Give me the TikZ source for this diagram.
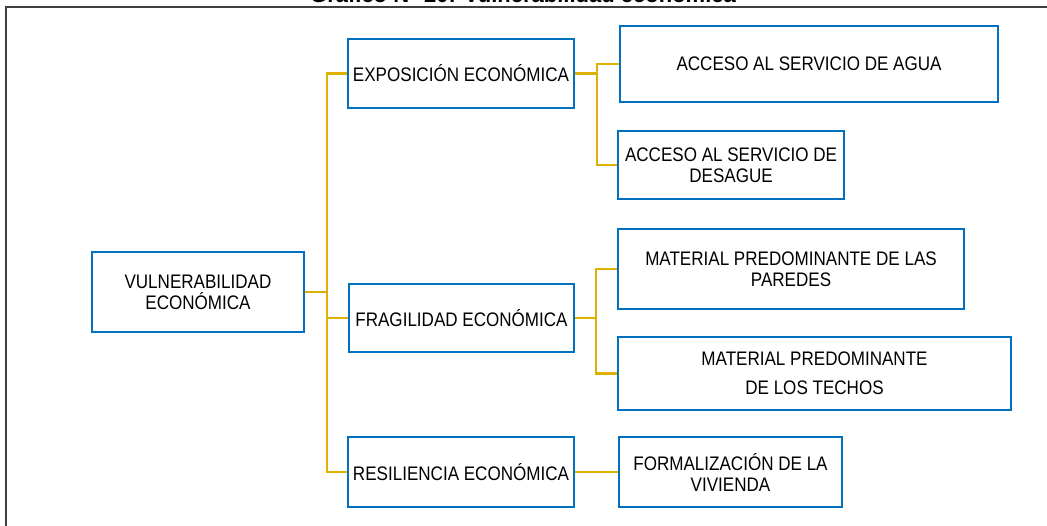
\documentclass[tikz,border=0pt]{standalone}
\usepackage{fontspec}
\setmainfont{Liberation Sans}[FakeStretch=0.87]
\newfontfamily\fuentetit{Liberation Sans}
\usepackage{xcolor}
\usepackage{tikz}
\usetikzlibrary{positioning,calc}
\definecolor{cazul}{HTML}{0070C0}
\definecolor{cdorado}{HTML}{E0B000}
\definecolor{cmarco}{HTML}{3F3F3F}
\tikzset{
  caja/.style={rectangle, draw=cazul, line width=1pt, fill=white,
    align=center, inner sep=0pt, font=\fontsize{9.8}{10.5}\selectfont},
  linea/.style={draw=cdorado, line width=1.2pt},
  marco/.style={draw=cmarco, line width=1pt},
  titulo/.style={font=\fuentetit\bfseries\fontsize{11}{13}\selectfont, inner sep=0pt},
}

\begin{document}
\begin{tikzpicture}[x=0.5pt,y=-0.5pt]
  \useasboundingbox (0,0) rectangle (1047,525);
  \clip (0,0) rectangle (1047,525);
  \node[titulo, anchor=base] (tit) at (523,2.5) {Gráfico N° 20: Vulnerabilidad económica};
  \draw[marco] (6,7) rectangle (1080,560);
  % nivel 1
  \node[caja, minimum width=106pt, minimum height=40pt] (vul) at (198,292) {VULNERABILIDAD\\ECONÓMICA};
  % nivel 2
  \node[caja, minimum width=113pt, minimum height=34.5pt] (expo) at (461,73.5) {EXPOSICIÓN ECONÓMICA};
  \node[caja, minimum width=112.5pt, minimum height=34pt] (frag) at (461.5,318) {FRAGILIDAD ECONÓMICA};
  \node[caja, minimum width=113pt, minimum height=35pt] (resi) at (461,472) {RESILIENCIA ECONÓMICA};
  % nivel 3
  \node[caja, minimum width=189pt, minimum height=38pt] (agua) at (809,64) {ACCESO AL SERVICIO DE AGUA};
  \node[caja, minimum width=113pt, minimum height=34pt] (desa) at (731,165) {ACCESO AL SERVICIO DE\\DESAGUE};
  \node[caja, minimum width=173pt, minimum height=40pt] (pare) at (791,269) {MATERIAL PREDOMINANTE DE LAS\\PAREDES};
  \node[caja, minimum width=196.5pt, minimum height=36.5pt] (tech) at (814.5,373.5) {MATERIAL PREDOMINANTE\\[4pt]DE LOS TECHOS};
  \node[caja, minimum width=111.5pt, minimum height=35pt] (form) at (730.5,472) {FORMALIZACIÓN DE LA\\VIVIENDA};
  % conectores
  \coordinate (t1) at (327,292);
  \draw[linea] (vul.east) -- (t1);
  \draw[linea] (expo.west) -| (t1) |- (resi.west);
  \draw[linea] (frag.west) -- (t1 |- frag.west);
  \coordinate (t2) at (597,73.5);
  \draw[linea] (expo.east) -- (t2);
  \draw[linea] (agua.west) -| (t2) |- (desa.west);
  \coordinate (t3) at (596,318);
  \draw[linea] (frag.east) -- (t3);
  \draw[linea] (pare.west) -| (t3) |- (tech.west);
  \draw[linea] (resi.east) -- (form.west);
\end{tikzpicture}
\end{document}
